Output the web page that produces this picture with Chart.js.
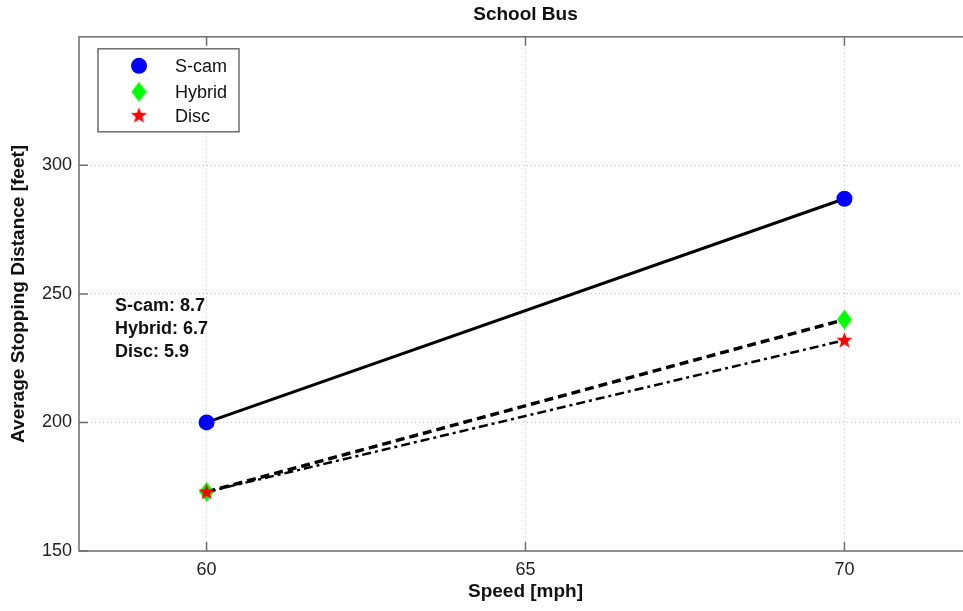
<!DOCTYPE html>
<html>
<head>
<meta charset="utf-8">
<script src="https://cdn.jsdelivr.net/npm/chart.js@4.4.1/dist/chart.umd.min.js"></script>
<style>
  html, body { margin: 0; padding: 0; background: #fff; overflow: hidden; }
  #wrap { width: 980px; height: 611px; }
</style>
</head>
<body>
<div id="wrap"><canvas id="myChart"></canvas></div>
<script>
// data
var speeds = [60, 70];
var scam = [200, 287];
var hybrid = [173, 240];
var disc = [173, 232];
var names = ["S-cam", "Hybrid", "Disc"];
var decel = [8.7, 6.7, 5.9];
var xTicks = [60, 65, 70];
var yTicks = [150, 200, 250, 300];

var FONT = "'Liberation Sans', Arial, sans-serif";

// filled red star for the Disc markers
function makeStar(size) {
    var c = document.createElement('canvas');
    c.width = size; c.height = size;
    var g = c.getContext('2d');
    var cx = size / 2, cy = size / 2 + 0.5, R = size / 2, r = R * 0.42;
    g.beginPath();
    for (var i = 0; i < 10; i++) {
        var rad = (i % 2 == 0) ? R : r;
        var a = -Math.PI / 2 + i * Math.PI / 5;
        g.lineTo(cx + rad * Math.cos(a), cy + rad * Math.sin(a));
    }
    g.closePath();
    g.fillStyle = '#ff0000';
    g.fill();
    return c;
}
// narrow green diamond, like the matlab one
function makeDiamond(w, h) {
    var c = document.createElement('canvas');
    c.width = w; c.height = h;
    var g = c.getContext('2d');
    g.beginPath();
    g.moveTo(w / 2, 0); g.lineTo(w, h / 2); g.lineTo(w / 2, h); g.lineTo(0, h / 2);
    g.closePath();
    g.fillStyle = '#00ff00';
    g.fill();
    return c;
}
var star = makeStar(17);
var diamond = makeDiamond(15, 20);

function pts(ys) {
    return speeds.map(function (x, i) { return { x: x, y: ys[i] }; });
}

// box, inward ticks, legend, text note
var extras = {
    id: 'extras',
    afterDraw: function (chart) {
        var ctx = chart.ctx;
        var a = chart.chartArea;
        var xs = chart.scales.x, ys = chart.scales.y;
        ctx.save();
        ctx.strokeStyle = '#6e6e6e';
        ctx.lineWidth = 1.5;
        ctx.strokeRect(a.left, a.top, a.right - a.left, a.bottom - a.top);
        ctx.beginPath();
        xs.ticks.forEach(function (t) {
            var px = xs.getPixelForValue(t.value);
            ctx.moveTo(px, a.bottom); ctx.lineTo(px, a.bottom - 9);
            ctx.moveTo(px, a.top); ctx.lineTo(px, a.top + 9);
        });
        ys.ticks.forEach(function (t) {
            var py = ys.getPixelForValue(t.value);
            ctx.moveTo(a.left, py); ctx.lineTo(a.left + 9, py);
            ctx.moveTo(a.right, py); ctx.lineTo(a.right - 9, py);
        });
        ctx.stroke();

        // legend
        var lx = a.left + 19, ly = a.top + 12, lw = 141, lh = 83;
        ctx.fillStyle = '#fff';
        ctx.fillRect(lx, ly, lw, lh);
        ctx.strokeStyle = '#6e6e6e';
        ctx.lineWidth = 1.5;
        ctx.strokeRect(lx, ly, lw, lh);
        var rows = [ly + 17, ly + 43, ly + 67];
        var mx = lx + 41;
        ctx.fillStyle = '#0000ff';
        ctx.beginPath(); ctx.arc(mx, rows[0], 8, 0, Math.PI * 2); ctx.fill();
        ctx.drawImage(diamond, mx - 7.5, rows[1] - 10);
        ctx.drawImage(star, mx - 8.5, rows[2] - 9);
        ctx.fillStyle = '#111';
        ctx.font = '18px ' + FONT;
        ctx.textBaseline = 'middle';
        ctx.textAlign = 'left';
        names.forEach(function (n, i) { ctx.fillText(n, lx + 77, rows[i] + 1); });

        // note with deceleration values
        ctx.font = 'bold 18px ' + FONT;
        ctx.fillStyle = '#111';
        names.forEach(function (n, i) {
            ctx.fillText(n + ': ' + decel[i], a.left + 36, 306 + i * 23);
        });
        ctx.restore();
    }
};

new Chart("myChart", {
    type: "line",
    data: {
        datasets: [{
            label: names[0],
            data: pts(scam),
            borderColor: '#000',
            borderWidth: 3,
            pointStyle: 'circle',
            pointRadius: 8,
            pointBackgroundColor: '#0000ff',
            pointBorderWidth: 0,
            order: 2
        }, {
            label: names[1],
            data: pts(hybrid),
            borderColor: '#000',
            borderWidth: 3.5,
            borderDash: [9, 5],
            pointStyle: diamond,
            order: 1
        }, {
            label: names[2],
            data: pts(disc),
            borderColor: '#000',
            borderWidth: 2.5,
            borderDash: [9, 4, 3, 4],
            pointStyle: star,
            order: 0
        }]
    },
    options: {
        responsive: true,
        maintainAspectRatio: false,
        animation: false,
        layout: { padding: { left: 0, right: 8, top: 0, bottom: 0 } },
        plugins: {
            legend: { display: false },
            tooltip: { enabled: false },
            title: {
                display: true,
                text: "School Bus",
                fullSize: false,
                color: '#111',
                font: { family: FONT, size: 19, weight: 'bold' },
                padding: { top: 3, bottom: 11 }
            }
        },
        scales: {
            x: {
                type: 'linear',
                min: 58,
                max: 72,
                afterBuildTicks: function (s) {
                    s.ticks = xTicks.map(function (v) { return { value: v }; });
                },
                afterFit: function (s) { s.height = 60; },
                grid: { color: '#c4c4c4', drawTicks: false, lineWidth: 1 },
                border: { display: false, dash: [1, 3] },
                ticks: { color: '#222', font: { family: FONT, size: 18 }, padding: 8, maxRotation: 0 },
                title: {
                    display: true,
                    text: "Speed [mph]",
                    color: '#111',
                    font: { family: FONT, size: 19, weight: 'bold' },
                    padding: { top: 0, bottom: 8 }
                }
            },
            y: {
                min: 150,
                max: 350,
                afterBuildTicks: function (s) {
                    s.ticks = yTicks.map(function (v) { return { value: v }; });
                },
                afterFit: function (s) { s.width = 79; },
                grid: { color: '#c4c4c4', drawTicks: false, lineWidth: 1 },
                border: { display: false, dash: [1, 3] },
                ticks: { color: '#222', font: { family: FONT, size: 18 }, padding: 7 },
                title: {
                    display: true,
                    text: "Average Stopping Distance [feet]",
                    color: '#111',
                    font: { family: FONT, size: 19, weight: 'bold' },
                    padding: { top: 7, bottom: 0 }
                }
            }
        }
    },
    plugins: [extras]
});
</script>
</body>
</html>
